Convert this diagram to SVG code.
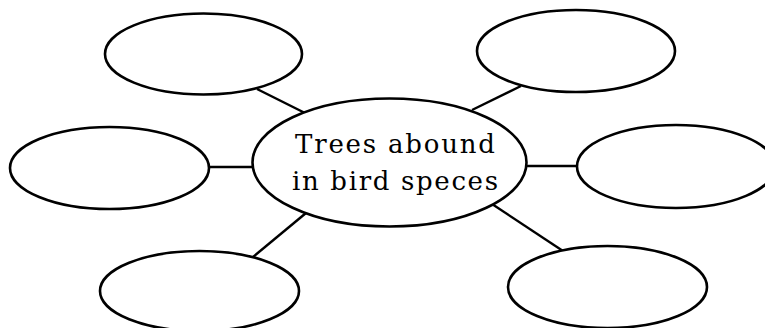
<svg xmlns="http://www.w3.org/2000/svg" width="765" height="328" viewBox="0 0 765 328">
<style>
.n{fill:#fff;stroke:#000;stroke-width:2.6}
.c{stroke:#000;stroke-width:2.4;fill:none}
.t{font-family:"DejaVu Serif","Liberation Serif",serif;font-size:26px;fill:#000;text-anchor:middle}
</style>
<rect width="765" height="328" fill="#fff"/>
<g id="connectors">
<line class="c" x1="257" y1="89" x2="305" y2="113"/>
<line class="c" x1="472" y1="110" x2="521" y2="86"/>
<line class="c" x1="209" y1="167" x2="253" y2="167"/>
<line class="c" x1="526" y1="166" x2="578" y2="166"/>
<line class="c" x1="306" y1="213" x2="253" y2="257"/>
<line class="c" x1="492" y1="204" x2="563" y2="251"/>
</g>
<g id="center">
<ellipse class="n" cx="389.5" cy="162.5" rx="137" ry="64"/>
<text class="t" x="395" y="153" textLength="200" lengthAdjust="spacing">Trees abound</text>
<text class="t" x="395" y="190" textLength="206" lengthAdjust="spacing">in bird speces</text>
</g>
<g id="top-left"><ellipse class="n" cx="203.5" cy="54" rx="98.5" ry="40.5"/></g>
<g id="top-right"><ellipse class="n" cx="576" cy="51" rx="99" ry="41"/></g>
<g id="left"><ellipse class="n" cx="109.5" cy="168" rx="99.5" ry="41"/></g>
<g id="right"><ellipse class="n" cx="676" cy="166.5" rx="99" ry="41.5"/></g>
<g id="bottom-left"><ellipse class="n" cx="199.5" cy="291" rx="99.5" ry="40"/></g>
<g id="bottom-right"><ellipse class="n" cx="607.5" cy="287" rx="99.5" ry="41"/></g>
</svg>
